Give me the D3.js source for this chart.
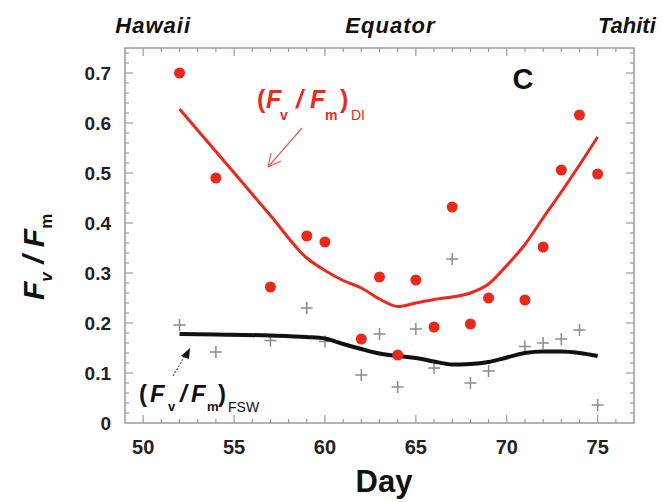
<!DOCTYPE html>
<html>
<head>
<meta charset="utf-8">
<script src="https://cdn.jsdelivr.net/npm/d3@7"></script>
<style>
  body { margin: 0; background: #fff; }
  svg text { font-family: "Liberation Sans", Arial, sans-serif; }
</style>
</head>
<body>
<div id="chart"></div>
<script>
// data
const diDays = [52, 54, 57, 59, 60, 62, 63, 64, 65, 66, 67, 68, 69, 71, 72, 73, 74, 75];
const diValues = [0.70, 0.49, 0.272, 0.374, 0.362, 0.168, 0.292, 0.136, 0.286, 0.192, 0.432, 0.198, 0.25, 0.246, 0.352, 0.506, 0.616, 0.498];

const fswDays = [52, 54, 57, 59, 60, 62, 63, 64, 65, 66, 67, 68, 69, 71, 72, 73, 74, 75];
const fswValues = [0.196, 0.142, 0.165, 0.23, 0.163, 0.096, 0.178, 0.072, 0.188, 0.11, 0.328, 0.08, 0.104, 0.153, 0.16, 0.168, 0.186, 0.036];

const diFitDays = [52, 54, 57, 59, 60, 61, 62, 63, 64, 65, 66, 67, 68, 69, 70, 71, 72, 73, 74, 75];
const diFitValues = [0.628, 0.543, 0.415, 0.33, 0.305, 0.285, 0.27, 0.248, 0.233, 0.24, 0.247, 0.252, 0.26, 0.278, 0.315, 0.357, 0.41, 0.462, 0.516, 0.572];

const fswFitDays = [52, 54, 57, 59, 60, 61, 62, 63, 64, 65, 66, 67, 68, 69, 70, 71, 72, 73, 74, 75];
const fswFitValues = [0.178, 0.177, 0.175, 0.172, 0.169, 0.158, 0.148, 0.139, 0.134, 0.13, 0.123, 0.117, 0.118, 0.122, 0.131, 0.14, 0.143, 0.143, 0.14, 0.134];

const xTicks = [50, 55, 60, 65, 70, 75];
const yTicks = [0, 0.1, 0.2, 0.3, 0.4, 0.5, 0.6, 0.7];
const places = [["Hawaii", 50.55, "middle", 1], ["Equator", 63.6, "middle", 1], ["Tahiti", 78.2, "end", 0]];

const W = 664, H = 502;
const RED = "#e8291c";

const svg = d3.select("#chart").append("svg")
  .attr("width", W)
  .attr("height", H);

const x = d3.scaleLinear().domain([49, 77]).range([125, 634]);
const y = d3.scaleLinear().domain([0, 0.75]).range([423, 48]);

// frame
svg.append("rect")
  .attr("x", x(49)).attr("y", y(0.75))
  .attr("width", x(77) - x(49)).attr("height", y(0) - y(0.75))
  .attr("fill", "none").attr("stroke", "#9a9a9a").attr("stroke-width", 1.5);

// ticks on all four sides (inward)
const ticks = svg.append("g").attr("stroke", "#9a9a9a").attr("stroke-width", 1.2);
d3.range(50, 77, 1).forEach((d) => {
  const len = d % 5 === 0 ? 8 : 4;
  ticks.append("line").attr("x1", x(d)).attr("x2", x(d)).attr("y1", y(0)).attr("y2", y(0) - len);
  ticks.append("line").attr("x1", x(d)).attr("x2", x(d)).attr("y1", y(0.75)).attr("y2", y(0.75) + len);
});
d3.range(0.02, 0.75, 0.02).forEach((d) => {
  const major = Math.abs(d * 10 - Math.round(d * 10)) < 1e-6;
  const len = major ? 8 : 4;
  ticks.append("line").attr("x1", x(49)).attr("x2", x(49) + len).attr("y1", y(d)).attr("y2", y(d));
  ticks.append("line").attr("x1", x(77)).attr("x2", x(77) - len).attr("y1", y(d)).attr("y2", y(d));
});

// tick labels
svg.append("g").selectAll("text").data(xTicks).join("text")
  .attr("x", (d) => x(d)).attr("y", 454)
  .attr("text-anchor", "middle")
  .attr("font-size", 20).attr("font-weight", "bold").attr("fill", "#222")
  .text((d) => d);

svg.append("g").selectAll("text").data(yTicks).join("text")
  .attr("x", 111).attr("y", (d) => y(d) + 7)
  .attr("text-anchor", "end")
  .attr("font-size", 19).attr("font-weight", "bold").attr("fill", "#222")
  .text((d) => (d === 0 ? "0" : d.toFixed(1)));

// axis titles
svg.append("text")
  .attr("x", 384).attr("y", 492)
  .attr("text-anchor", "middle")
  .attr("font-size", 31).attr("font-weight", "bold").attr("fill", "#111")
  .text("Day");

const yTitle = svg.append("text")
  .attr("transform", "translate(44,300) rotate(-90)")
  .attr("font-size", 30).attr("font-weight", "bold").attr("font-style", "italic").attr("fill", "#111");
yTitle.append("tspan").text("F");
yTitle.append("tspan").attr("font-size", 17).attr("dy", 8).text("v");
yTitle.append("tspan").attr("dy", -8).text(" / F");
yTitle.append("tspan").attr("font-size", 17).attr("dy", 8).attr("font-style", "normal").text("m");

// place names on top
svg.append("g").selectAll("text").data(places).join("text")
  .attr("x", (d) => x(d[1])).attr("y", 33)
  .attr("text-anchor", (d) => d[2])
  .attr("font-size", 22).attr("font-weight", "bold").attr("font-style", "italic")
  .attr("letter-spacing", (d) => d[3]).attr("fill", "#111")
  .text((d) => d[0]);

// panel letter
svg.append("text")
  .attr("x", 523).attr("y", 89)
  .attr("text-anchor", "middle")
  .attr("font-size", 29).attr("font-weight", "bold").attr("fill", "#111")
  .text("C");

// FSW crosses
svg.append("g").selectAll("path").data(fswDays).join("path")
  .attr("transform", (d, i) => `translate(${x(d)},${y(fswValues[i])})`)
  .attr("d", "M-6,0H6M0,-6V6")
  .attr("stroke", "#8c8c8c").attr("stroke-width", 1.5).attr("fill", "none");

const line = d3.line()
  .x((d) => x(d[0]))
  .y((d) => y(d[1]))
  .curve(d3.curveMonotoneX);

// fitted lines
svg.append("path")
  .datum(fswFitDays.map((d, i) => [d, fswFitValues[i]]))
  .attr("d", line)
  .attr("fill", "none").attr("stroke", "#111").attr("stroke-width", 4);

svg.append("path")
  .datum(diFitDays.map((d, i) => [d, diFitValues[i]]))
  .attr("d", line)
  .attr("fill", "none").attr("stroke", RED).attr("stroke-width", 3);

// DI dots
svg.append("g").selectAll("circle").data(diDays).join("circle")
  .attr("cx", (d) => x(d)).attr("cy", (d, i) => y(diValues[i]))
  .attr("r", 5.5)
  .attr("fill", RED);

// annotation label built from pieces: [text, x, baseline, size, weight, style]
function label(parts, color) {
  svg.append("g").selectAll("text").data(parts).join("text")
    .attr("x", (d) => d[1]).attr("y", (d) => d[2])
    .attr("font-size", (d) => d[3])
    .attr("font-weight", (d) => d[4])
    .attr("font-style", (d) => d[5])
    .attr("fill", color)
    .text((d) => d[0]);
}

label([
  ["(", 257, 108, 25, "bold", "normal"],
  ["F", 266, 108, 25, "bold", "italic"],
  ["v", 280, 120, 14, "bold", "normal"],
  ["/", 296, 108, 25, "bold", "italic"],
  ["F", 310, 108, 25, "bold", "italic"],
  ["m", 325, 120, 14, "bold", "normal"],
  [")", 340, 108, 25, "bold", "normal"],
  ["DI", 351, 120, 14, "normal", "normal"],
], RED);

svg.append("path")
  .attr("d", "M302,128L268,167M268,167L271,153M268,167L281,161")
  .attr("stroke", RED).attr("stroke-width", 1.2).attr("fill", "none").attr("opacity", 0.75);

label([
  ["(", 139, 402, 24, "bold", "normal"],
  ["F", 150, 402, 24, "bold", "italic"],
  ["v", 168, 411, 13, "bold", "normal"],
  ["/", 180, 402, 24, "bold", "italic"],
  ["F", 191, 402, 24, "bold", "italic"],
  ["m", 207, 411, 13, "bold", "normal"],
  [")", 218, 402, 24, "bold", "normal"],
  ["FSW", 228, 412, 14, "normal", "normal"],
], "#111");

svg.append("path")
  .attr("d", "M173,376L186,354")
  .attr("stroke", "#333").attr("stroke-width", 1).attr("stroke-dasharray", "2,1.5").attr("fill", "none");
svg.append("path")
  .attr("d", "M190,348L181,356L189,359Z")
  .attr("fill", "#111");
</script>
</body>
</html>
